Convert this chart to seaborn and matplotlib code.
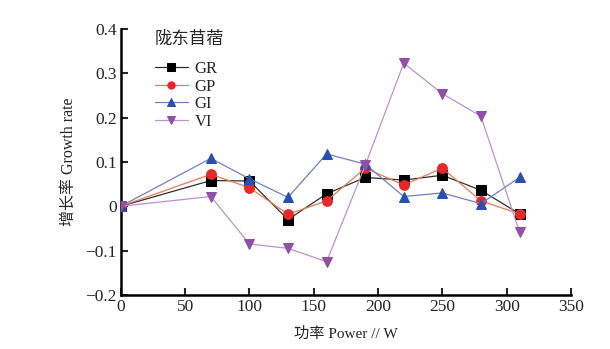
import numpy as np
import pandas as pd
import matplotlib
matplotlib.use("Agg")
import matplotlib.pyplot as plt
import seaborn as sns

# -------------------------------
# Data
# -------------------------------
power = [0, 70, 100, 130, 160, 190, 220, 250, 280, 310]
gr = [0, 0.058, 0.057, -0.030, 0.028, 0.065, 0.059, 0.070, 0.036, -0.017]
gp = [0, 0.072, 0.042, -0.018, 0.012, 0.086, 0.048, 0.086, 0.012, -0.017]
gi = [0, 0.108, 0.062, 0.020, 0.118, 0.095, 0.022, 0.030, 0.006, 0.065]
vi = [0, 0.022, -0.085, -0.095, -0.125, 0.092, 0.323, 0.254, 0.203, -0.058]
names = ["GR", "GP", "GI", "VI"]

df = pd.DataFrame({"power": power, "GR": gr, "GP": gp, "GI": gi, "VI": vi})
long_df = df.melt(id_vars="power", var_name="index", value_name="rate")

# -------------------------------
# Style
# -------------------------------
sns.set_style("white")
plt.rcParams["font.family"] = ["Liberation Serif", "Noto Sans CJK SC", "DejaVu Sans"]

styles = {
    "GR": dict(line="#303030", face="#000000", marker="s"),
    "GP": dict(line="#f07850", face="#e82828", marker="o"),
    "GI": dict(line="#7080c8", face="#2850b0", marker="^"),
    "VI": dict(line="#c090d0", face="#9050a8", marker="v"),
}

fig = plt.figure(figsize=(6.1, 3.49), dpi=100)
ax = fig.add_axes([0.198, 0.155, 0.738, 0.762])

for name in names:
    st = styles[name]
    sns.lineplot(data=long_df[long_df["index"] == name], x="power", y="rate",
                 ax=ax, color=st["line"], linewidth=0.9, marker=st["marker"],
                 markersize=7, markerfacecolor=st["face"],
                 markeredgecolor=st["face"], label=name, zorder=3)

ax.set_xlim(0, 350)
ax.set_ylim(-0.2, 0.4)
ax.set_xticks(np.arange(0, 351, 50))
ax.set_yticks(np.arange(-0.2, 0.41, 0.1))
ax.set_yticklabels(["\u22120.2", "\u22120.1", "0", "0.1", "0.2", "0.3", "0.4"])

for s in ["top", "right"]:
    ax.spines[s].set_visible(False)
for s in ["left", "bottom"]:
    ax.spines[s].set_linewidth(1.8)
    ax.spines[s].set_color("black")

ax.tick_params(axis="both", direction="in", length=5, width=1.5,
               labelsize=12.5, left=True, bottom=True, pad=3)

ax.set_xlabel("功率 Power // W", fontsize=11, labelpad=8)
ax.set_ylabel("增长率 Growth rate", fontsize=11.5, labelpad=6)

# legend title drawn separately so the gap to the entries matches
ax.text(0.075, 0.96, "陇东苜蓿", transform=ax.transAxes, fontsize=12.5,
        ha="left", va="center")
ax.legend(loc="upper left", frameon=False, fontsize=12, markerscale=0.75,
          handlelength=2.0, handletextpad=0.4, labelspacing=0.1,
          borderpad=0, borderaxespad=0, bbox_to_anchor=(0.075, 0.88))

plt.savefig("out.png", dpi=100)
